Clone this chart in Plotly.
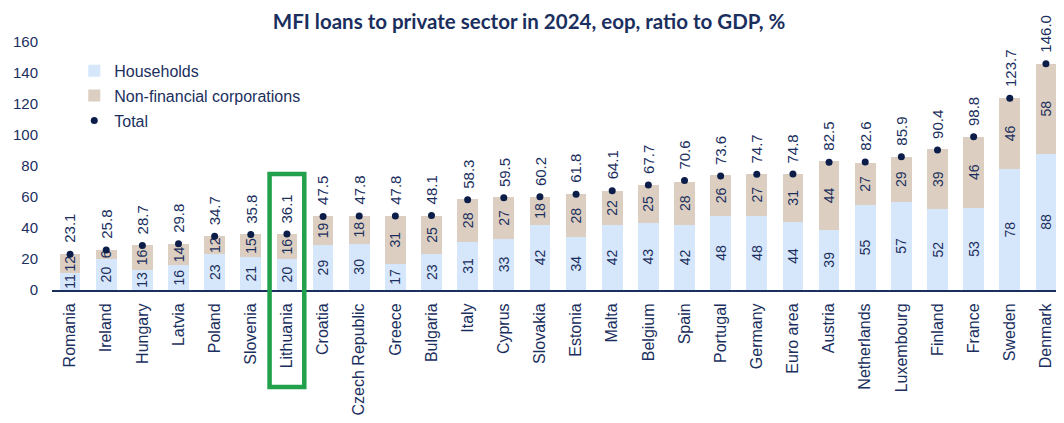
import plotly.graph_objects as go

countries = ["Romania", "Ireland", "Hungary", "Latvia", "Poland", "Slovenia", "Lithuania",
             "Croatia", "Czech Republic", "Greece", "Bulgaria", "Italy", "Cyprus", "Slovakia",
             "Estonia", "Malta", "Belgium", "Spain", "Portugal", "Germany", "Euro area",
             "Austria", "Netherlands", "Luxembourg", "Finland", "France", "Sweden", "Denmark"]
households = [11, 20, 13, 16, 23, 21, 20, 29, 30, 17, 23, 31, 33, 42, 34, 42, 43, 42, 48, 48,
              44, 39, 55, 57, 52, 53, 78, 88]
nfc = [12, 6, 16, 14, 12, 15, 16, 19, 18, 31, 25, 28, 27, 18, 28, 22, 25, 28, 26, 27,
       31, 44, 27, 29, 39, 46, 46, 58]
total = [23.1, 25.8, 28.7, 29.8, 34.7, 35.8, 36.1, 47.5, 47.8, 47.8, 48.1, 58.3, 59.5, 60.2,
         61.8, 64.1, 67.7, 70.6, 73.6, 74.7, 74.8, 82.5, 82.6, 85.9, 90.4, 98.8, 123.7, 146.0]
y_ticks = [0, 20, 40, 60, 80, 100, 120, 140, 160]
highlight = "Lithuania"

NAVY = "#1b2f5e"
DOT = "#0b1d48"
BLUE = "#d7e7fb"
BEIGE = "#dccfc1"
FONT = "Liberation Sans, Arial, sans-serif"

fig = go.Figure()
fig.add_trace(go.Bar(
    x=countries, y=households, name="Households", legendgroup="a",
    marker=dict(color=BLUE, line=dict(width=0)), width=0.57,
    text=[str(v) for v in households], textposition="inside", insidetextanchor="middle",
    textangle=-90, constraintext="none", cliponaxis=False,
    textfont=dict(color=NAVY, size=14, family=FONT)))
fig.add_trace(go.Bar(
    x=countries, y=nfc, name="Non-financial corporations", legendgroup="b",
    marker=dict(color=BEIGE, line=dict(width=0)), width=0.57,
    text=[str(v) for v in nfc], textposition="inside", insidetextanchor="middle",
    textangle=-90, constraintext="none", cliponaxis=False,
    textfont=dict(color=NAVY, size=14, family=FONT)))
fig.add_trace(go.Scatter(
    x=countries, y=total, name="Total", legendgroup="c", mode="markers",
    marker=dict(color=DOT, size=7), cliponaxis=False))

for c, t in zip(countries, total):
    fig.add_annotation(x=c, y=t, text=f"{t:.1f}", textangle=-90, showarrow=False,
                       xanchor="center", yanchor="bottom", yshift=9,
                       font=dict(color=NAVY, size=15, family=FONT))

idx = countries.index(highlight)
fig.add_shape(type="rect", xref="x", yref="paper", x0=idx - 0.48, x1=idx + 0.48,
              y0=-0.391, y1=0.468, line=dict(color="#22a04b", width=4.5),
              fillcolor="rgba(0,0,0,0)")

fig.update_layout(
    width=1056, height=415,
    margin=dict(l=44, r=0, t=34, b=133),
    paper_bgcolor="white", plot_bgcolor="white",
    barmode="stack", bargap=0.43,
    showlegend=True,
    title=dict(text="<b>MFI loans to private sector in 2024, eop, ratio to GDP, %</b>",
               x=0.4934, xanchor="center", y=0.966, yanchor="middle",
               font=dict(family="Lato, sans-serif", size=20.5, color=NAVY)),
    legend=dict(x=0.022, y=0.952, xanchor="left", yanchor="top", traceorder="grouped",
                tracegroupgap=1, bgcolor="rgba(0,0,0,0)",
                font=dict(family=FONT, size=16, color=NAVY)),
    xaxis=dict(type="category", tickangle=-90, showgrid=False, showline=True,
               linecolor=NAVY, linewidth=2, ticks="outside", ticklen=5,
               tickcolor="rgba(0,0,0,0)", tickfont=dict(family=FONT, size=16, color=NAVY),
               range=[-0.5, len(countries) - 0.5]),
    yaxis=dict(range=[0, 160], tickvals=y_ticks, showgrid=False, zeroline=False,
               showline=False, ticks="outside", ticklen=10, tickcolor="rgba(0,0,0,0)",
               tickfont=dict(family=FONT, size=15, color=NAVY)),
)

fig.write_html("out.html")
